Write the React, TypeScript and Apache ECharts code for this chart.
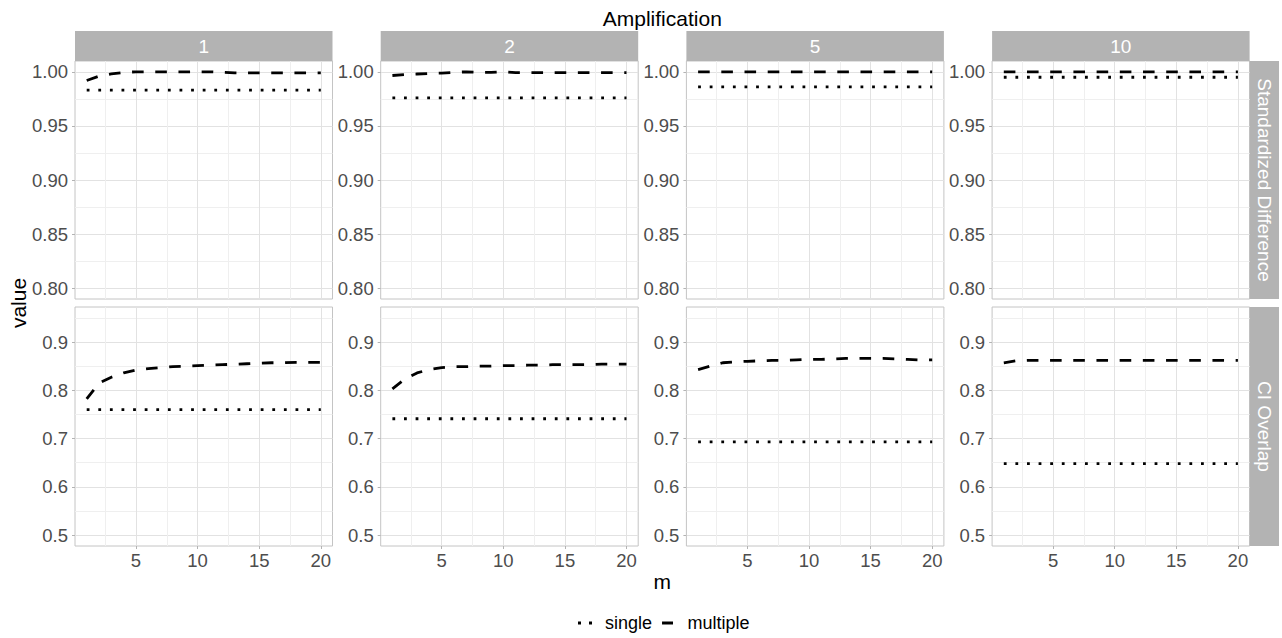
import React, { useEffect, useRef } from 'react';
import * as echarts from 'echarts';

// ---------- data ----------
const mValues = [1, 2, 3, 4, 5, 6, 7, 8, 9, 10, 11, 12, 13, 14, 15, 16, 17, 18, 19, 20];
const amplifications = ['1', '2', '5', '10'];
const metrics = ['Standardized Difference', 'CI Overlap'];

const sdSingle = [0.983, 0.976, 0.986, 0.995];
const ciSingle = [0.76, 0.741, 0.693, 0.648];

const sdMultipleAmp1 = [0.992, 0.996, 0.998, 0.9995, 1.0, 1.0, 1.0, 1.0, 1.0, 1.0, 1.0, 0.9995, 0.999, 0.999, 0.999, 0.999, 0.999, 0.999, 0.999, 0.999];
const sdMultipleAmp2 = [0.9966, 0.9975, 0.998, 0.9985, 0.9988, 0.9995, 1.0, 0.9995, 0.9995, 1.0, 0.9993, 0.9993, 0.9993, 0.9993, 0.9993, 0.9993, 0.9993, 0.9993, 0.9993, 0.9993];
const sdMultipleAmp5 = [1.0, 1.0, 1.0, 1.0, 1.0, 1.0, 1.0, 1.0, 1.0, 1.0, 1.0, 1.0, 1.0, 1.0, 1.0, 1.0, 1.0, 1.0, 1.0, 1.0];
const sdMultipleAmp10 = [1.0, 1.0, 1.0, 1.0, 1.0, 1.0, 1.0, 1.0, 1.0, 1.0, 1.0, 1.0, 1.0, 1.0, 1.0, 1.0, 1.0, 1.0, 1.0, 1.0];

const ciMultipleAmp1 = [0.782, 0.815, 0.827, 0.836, 0.842, 0.845, 0.847, 0.849, 0.85, 0.851, 0.852, 0.853, 0.854, 0.855, 0.856, 0.857, 0.857, 0.858, 0.858, 0.858];
const ciMultipleAmp2 = [0.803, 0.823, 0.836, 0.843, 0.847, 0.849, 0.849, 0.85, 0.85, 0.851, 0.851, 0.852, 0.852, 0.853, 0.853, 0.853, 0.853, 0.854, 0.854, 0.854];
const ciMultipleAmp5 = [0.843, 0.85, 0.857, 0.859, 0.86, 0.861, 0.862, 0.862, 0.863, 0.864, 0.864, 0.865, 0.866, 0.866, 0.866, 0.866, 0.865, 0.864, 0.863, 0.863];
const ciMultipleAmp10 = [0.857, 0.861, 0.862, 0.862, 0.862, 0.862, 0.862, 0.862, 0.862, 0.862, 0.862, 0.862, 0.862, 0.862, 0.862, 0.862, 0.862, 0.862, 0.862, 0.862];

const sdMultiple = [sdMultipleAmp1, sdMultipleAmp2, sdMultipleAmp5, sdMultipleAmp10];
const ciMultiple = [ciMultipleAmp1, ciMultipleAmp2, ciMultipleAmp5, ciMultipleAmp10];

// axis breaks
const xGridValues = [2.5, 5, 7.5, 10, 12.5, 15, 17.5, 20];
const xTickLabels = [5, 10, 15, 20];
const sdGridValues = [0.8, 0.825, 0.85, 0.875, 0.9, 0.925, 0.95, 0.975, 1.0];
const sdTickLabels = [0.8, 0.85, 0.9, 0.95, 1.0];
const ciGridValues = [0.5, 0.55, 0.6, 0.65, 0.7, 0.75, 0.8, 0.85, 0.9, 0.95];
const ciTickLabels = [0.5, 0.6, 0.7, 0.8, 0.9];

const xRange = [0.05, 20.95];
const sdRange = [0.79, 1.01];
const ciRange = [0.4775, 0.9725];

// ---------- style / layout ----------
const FONT = '"Liberation Sans", Arial, Helvetica, sans-serif';
const MAJOR = '#e2e2e2';
const MINOR = '#efefef';
const STRIP = '#b3b3b3';
const BORDER = '#c4c4c4';
const LABEL = '#4d4d4d';
const TICK_FS = 18.5;
const STRIP_FS = 19;

const PANEL_LEFT0 = 75;
const PANEL_STEP = 305.7;
const PANEL_W = 257.5;
const ROW_TOP = [61, 307];
const ROW_H = [238, 239];
const STRIP_TOP = 31;
const STRIP_H = 30;
const RSTRIP_W = 29.4;

export default function App() {
  const ref = useRef<HTMLDivElement>(null);

  useEffect(() => {
    if (!ref.current) return;
    const chart = echarts.init(ref.current, null, { renderer: 'svg' });

    const grids: any[] = [];
    const xAxes: any[] = [];
    const yAxes: any[] = [];
    const series: any[] = [];
    const graphics: any[] = [];

    let idx = 0;
    for (let r = 0; r < 2; r++) {
      for (let c = 0; c < 4; c++) {
        const left = PANEL_LEFT0 + c * PANEL_STEP;
        const top = ROW_TOP[r];
        grids.push({
          left,
          top,
          width: PANEL_W,
          height: ROW_H[r],
          show: true,
          borderColor: BORDER,
          borderWidth: 1,
          backgroundColor: '#ffffff',
        });
        const gridVals = r === 0 ? sdGridValues : ciGridValues;
        const tickVals = r === 0 ? sdTickLabels : ciTickLabels;
        const yr = r === 0 ? sdRange : ciRange;
        const dec = r === 0 ? 2 : 1;

        // grid-line axes
        xAxes.push({
          type: 'value', gridIndex: idx, position: 'top', min: xRange[0], max: xRange[1],
          axisLine: { show: false },
          axisTick: { show: false, customValues: xGridValues },
          axisLabel: { show: false },
          splitLine: { show: true, lineStyle: { color: [MINOR, MAJOR], width: 1 } },
        });
        xAxes.push({
          type: 'value', gridIndex: idx, position: 'bottom', min: xRange[0], max: xRange[1],
          axisLine: { show: false },
          axisTick: { show: r === 1, customValues: xTickLabels, length: 3, lineStyle: { color: STRIP, width: 1 } },
          axisLabel: {
            show: r === 1, customValues: xTickLabels, margin: 5, color: LABEL,
            fontSize: TICK_FS, fontFamily: FONT, formatter: (v: number) => String(v),
          },
          splitLine: { show: false },
        });
        yAxes.push({
          type: 'value', gridIndex: idx, position: 'right', min: yr[0], max: yr[1],
          axisLine: { show: false },
          axisTick: { show: false, customValues: gridVals },
          axisLabel: { show: false },
          splitLine: { show: true, lineStyle: { color: [MAJOR, MINOR], width: 1 } },
        });
        yAxes.push({
          type: 'value', gridIndex: idx, position: 'left', min: yr[0], max: yr[1],
          axisLine: { show: false },
          axisTick: { show: true, customValues: tickVals, length: 3, lineStyle: { color: STRIP, width: 1 } },
          axisLabel: {
            show: true, customValues: tickVals, margin: 7, color: LABEL,
            fontSize: TICK_FS, fontFamily: FONT, formatter: (v: number) => v.toFixed(dec),
          },
          splitLine: { show: false },
        });

        const singleVal = r === 0 ? sdSingle[c] : ciSingle[c];
        const multi = r === 0 ? sdMultiple[c] : ciMultiple[c];
        series.push({
          name: 'single', type: 'line', xAxisIndex: 2 * idx + 1, yAxisIndex: 2 * idx + 1,
          data: mValues.map((m) => [m, singleVal]),
          showSymbol: false, symbol: 'none', silent: true,
          itemStyle: { color: '#000' },
          lineStyle: { color: '#000', width: 2.8, type: [2.8, 8.8], cap: 'butt' },
        });
        series.push({
          name: 'multiple', type: 'line', xAxisIndex: 2 * idx + 1, yAxisIndex: 2 * idx + 1,
          data: mValues.map((m, i) => [m, multi[i]]),
          showSymbol: false, symbol: 'none', silent: true,
          itemStyle: { color: '#000' },
          lineStyle: { color: '#000', width: 2.8, type: [11.6, 11.6], cap: 'butt' },
        });
        idx++;
      }
    }

    // top strips
    for (let c = 0; c < 4; c++) {
      const left = PANEL_LEFT0 + c * PANEL_STEP;
      graphics.push({
        type: 'rect', silent: true,
        shape: { x: left, y: STRIP_TOP, width: PANEL_W, height: STRIP_H },
        style: { fill: STRIP },
      });
      graphics.push({
        type: 'text', silent: true, x: left + PANEL_W / 2, y: STRIP_TOP + STRIP_H / 2,
        style: { text: amplifications[c], fill: '#ffffff', font: `${STRIP_FS}px ${FONT}`, align: 'center', verticalAlign: 'middle' },
      });
    }
    // right strips
    const rx = PANEL_LEFT0 + 3 * PANEL_STEP + PANEL_W;
    for (let r = 0; r < 2; r++) {
      graphics.push({
        type: 'rect', silent: true,
        shape: { x: rx, y: ROW_TOP[r], width: RSTRIP_W, height: ROW_H[r] },
        style: { fill: STRIP },
      });
      graphics.push({
        type: 'text', silent: true, x: rx + RSTRIP_W / 2, y: ROW_TOP[r] + ROW_H[r] / 2,
        rotation: -Math.PI / 2,
        style: { text: metrics[r], fill: '#ffffff', font: `${STRIP_FS}px ${FONT}`, align: 'center', verticalAlign: 'middle' },
      });
    }
    const centerX = (PANEL_LEFT0 + rx) / 2;
    graphics.push({
      type: 'text', silent: true, x: centerX, y: 18,
      style: { text: 'Amplification', fill: '#000', font: `21px ${FONT}`, align: 'center', verticalAlign: 'middle' },
    });
    graphics.push({
      type: 'text', silent: true, x: centerX, y: 581,
      style: { text: 'm', fill: '#000', font: `21px ${FONT}`, align: 'center', verticalAlign: 'middle' },
    });
    graphics.push({
      type: 'text', silent: true, x: 18, y: 303, rotation: Math.PI / 2,
      style: { text: 'value', fill: '#000', font: `21px ${FONT}`, align: 'center', verticalAlign: 'middle' },
    });

    chart.setOption({
      animation: false,
      backgroundColor: '#ffffff',
      grid: grids,
      xAxis: xAxes,
      yAxis: yAxes,
      series,
      graphic: graphics,
      legend: {
        left: 578,
        top: 614,
        padding: 0,
        itemWidth: 14,
        itemHeight: 3,
        itemGap: 10,
        selectedMode: false,
        itemStyle: { color: '#000', borderWidth: 0 },
        textStyle: { fontSize: 18, color: '#000', fontFamily: FONT, padding: [0, 0, 0, 8] },
        data: [
          { name: 'single', icon: 'path://M0,0h3v3h-3z M11,0h3v3h-3z' },
          { name: 'multiple', icon: 'path://M0,0h11v3h-11z' },
        ],
      },
    });

    return () => chart.dispose();
  }, []);

  return (
    <div
      ref={ref}
      style={{ position: 'fixed', left: 0, top: 0, width: 1282, height: 638, background: '#fff' }}
    />
  );
}
